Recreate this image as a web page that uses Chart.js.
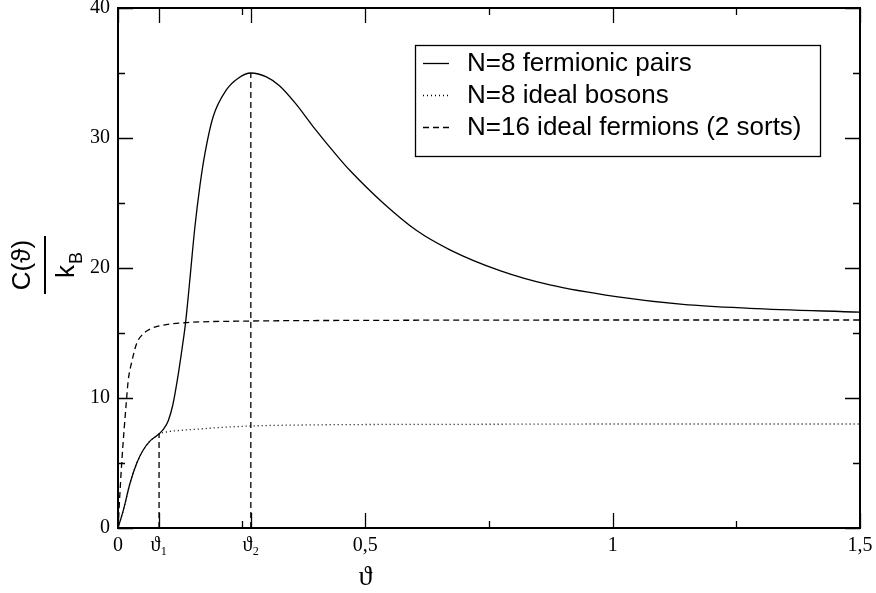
<!DOCTYPE html>
<html>
<head>
<meta charset="utf-8">
<script src="https://cdn.jsdelivr.net/npm/chart.js@4.4.1/dist/chart.umd.min.js"></script>
<style>
  html, body { margin: 0; padding: 0; background: #fff; }
</style>
</head>
<body>
<canvas id="chart" width="876" height="593"></canvas>
<script>
// special temperatures marked on the axis
var theta1 = 0.083;
var theta2 = 0.2685;

var xTickValues = [0, theta1, theta2, 0.5, 1, 1.5];
var xTickLabels = ["0", "ϑ₁", "ϑ₂", "0,5", "1", "1,5"];
var xMinorTicks = [0.25, 0.75, 1.25];
var yMajorTicks = [0, 10, 20, 30, 40];
var yMinorTicks = [5, 15, 25, 35];

var seriesNames = ["N=8 fermionic pairs", "N=8 ideal bosons", "N=16 ideal fermions (2 sorts)"];

// N=8 fermionic pairs
var pairsX = [0, 0.011, 0.024, 0.038, 0.051, 0.065, 0.075, 0.083, 0.092, 0.1016, 0.111, 0.12, 0.128, 0.1366, 0.145, 0.155, 0.1655, 0.1757, 0.192, 0.219, 0.243, 0.2685, 0.3, 0.327, 0.36, 0.394, 0.448, 0.469, 0.536, 0.603, 0.671, 0.772, 0.873, 1.007, 1.142, 1.277, 1.5];
var pairsY = [0, 1.4, 3.4, 5.0, 6.0, 6.7, 7.0, 7.25, 7.6, 8.25, 9.5, 11.4, 13.4, 15.8, 19.0, 23.0, 26.3, 28.8, 31.6, 33.7, 34.6, 35.0, 34.7, 34.0, 32.6, 30.9, 28.4, 27.5, 25.0, 22.9, 21.4, 19.8, 18.7, 17.8, 17.2, 16.9, 16.6];

// N=8 ideal bosons
var bosonsX = [0, 0.011, 0.024, 0.038, 0.051, 0.065, 0.075, 0.083, 0.1, 0.13, 0.166, 0.22, 0.27, 0.367, 0.5, 0.75, 1.0, 1.5];
var bosonsY = [0, 1.4, 3.4, 5.0, 6.0, 6.7, 7.0, 7.22, 7.4, 7.52, 7.62, 7.76, 7.85, 7.92, 7.96, 7.98, 8.0, 8.0];

// N=16 ideal fermions (2 sorts)
var fermionsX = [0, 0.0075, 0.0175, 0.0208, 0.028, 0.0377, 0.05, 0.0646, 0.09, 0.139, 0.27, 0.5, 1.0, 1.5];
var fermionsY = [0, 5.0, 10.0, 11.4, 12.8, 14.2, 14.9, 15.3, 15.6, 15.8, 15.92, 15.97, 16.0, 16.0];

// drop lines at theta1 and theta2
var drop1Y = [0, 7.25];
var drop2Y = [0, 35.0];

function toPoints(xs, ys) {
    return xs.map(function (x, i) { return { x: x, y: ys[i] }; });
}

var frameAndTicks = {
    id: "frameAndTicks",
    afterDatasetsDraw: function (chart) {
        var ctx = chart.ctx;
        var a = chart.chartArea;
        var xs = chart.scales.x;
        var ys = chart.scales.y;
        ctx.save();
        ctx.strokeStyle = "#000";
        ctx.lineWidth = 2;
        ctx.strokeRect(a.left, a.top, a.right - a.left, a.bottom - a.top);
        ctx.lineWidth = 1.3;
        ctx.beginPath();
        function xt(v, len) {
            var p = Math.round(xs.getPixelForValue(v)) + 0.5;
            ctx.moveTo(p, a.bottom); ctx.lineTo(p, a.bottom - len);
            ctx.moveTo(p, a.top); ctx.lineTo(p, a.top + len);
        }
        function yt(v, len) {
            var p = Math.round(ys.getPixelForValue(v)) + 0.5;
            ctx.moveTo(a.left, p); ctx.lineTo(a.left + len, p);
            ctx.moveTo(a.right, p); ctx.lineTo(a.right - len, p);
        }
        xTickValues.forEach(function (v) { xt(v, 15); });
        xMinorTicks.forEach(function (v) { xt(v, 7); });
        yMajorTicks.forEach(function (v) { yt(v, 15); });
        yMinorTicks.forEach(function (v) { yt(v, 7); });
        ctx.stroke();

        // axis titles
        ctx.fillStyle = "#000";
        ctx.font = "28px 'Liberation Serif', 'DejaVu Serif', serif";
        ctx.textAlign = "center";
        ctx.textBaseline = "middle";
        ctx.fillText("ϑ", xs.getPixelForValue(0.5), 578);

        ctx.translate(45, 265);
        ctx.rotate(-Math.PI / 2);
        ctx.font = "26px 'Liberation Sans', Arial, sans-serif";
        ctx.fillText("C(ϑ)", 0, -22);
        ctx.lineWidth = 2;
        ctx.beginPath();
        ctx.moveTo(-29, 0); ctx.lineTo(29, 0);
        ctx.stroke();
        ctx.textAlign = "left";
        ctx.fillText("k", -13, 22);
        ctx.font = "18px 'Liberation Sans', Arial, sans-serif";
        ctx.fillText("B", 1, 32);
        ctx.restore();

        // legend box
        ctx.save();
        var bx = 415, by = 45, bw = 405, bh = 111;
        ctx.fillStyle = "#fff";
        ctx.fillRect(bx, by, bw, bh);
        ctx.strokeStyle = "#000";
        ctx.lineWidth = 1.3;
        ctx.strokeRect(bx + 0.5, by + 0.5, bw, bh);
        ctx.font = "26px 'Liberation Sans', Arial, sans-serif";
        ctx.textAlign = "left";
        ctx.textBaseline = "middle";
        for (var i = 0; i < seriesNames.length; i++) {
            var ds = chart.data.datasets[i];
            var ry = 63 + i * 32;
            ctx.setLineDash(ds.borderDash || []);
            ctx.lineWidth = ds.borderWidth;
            ctx.beginPath();
            ctx.moveTo(423, ry + 0.5);
            ctx.lineTo(449, ry + 0.5);
            ctx.stroke();
            ctx.setLineDash([]);
            ctx.fillStyle = "#000";
            ctx.fillText(seriesNames[i], 467, ry + 1);
        }
        ctx.restore();
    }
};

var ctx = document.getElementById("chart").getContext("2d");
var graph = new Chart(ctx, {
    type: "line",
    data: {
        datasets: [{
            label: seriesNames[0],
            data: toPoints(pairsX, pairsY),
            borderColor: "#000",
            borderWidth: 1.3,
            cubicInterpolationMode: "monotone"
        }, {
            label: seriesNames[1],
            data: toPoints(bosonsX, bosonsY),
            borderColor: "#000",
            borderWidth: 1.3,
            borderDash: [1, 3],
            cubicInterpolationMode: "monotone"
        }, {
            label: seriesNames[2],
            data: toPoints(fermionsX, fermionsY),
            borderColor: "#000",
            borderWidth: 1.3,
            borderDash: [6, 4],
            cubicInterpolationMode: "monotone"
        }, {
            label: "theta1",
            data: toPoints([theta1, theta1], drop1Y),
            borderColor: "#000",
            borderWidth: 1.3,
            borderDash: [6, 4]
        }, {
            label: "theta2",
            data: toPoints([theta2, theta2], drop2Y),
            borderColor: "#000",
            borderWidth: 1.3,
            borderDash: [6, 4]
        }]
    },
    options: {
        responsive: false,
        animation: false,
        devicePixelRatio: 1,
        elements: { point: { radius: 0 } },
        layout: { padding: { top: 8, right: 16, bottom: 0, left: 0 } },
        plugins: {
            legend: { display: false },
            tooltip: { enabled: false }
        },
        scales: {
            x: {
                type: "linear",
                min: 0,
                max: 1.5,
                afterBuildTicks: function (scale) {
                    scale.ticks = xTickValues.map(function (v) { return { value: v }; });
                },
                afterFit: function (scale) {
                    scale.height = 65;
                    scale.paddingLeft = 0;
                    scale.paddingRight = 0;
                },
                ticks: {
                    autoSkip: false,
                    maxRotation: 0,
                    padding: 6,
                    color: "#000",
                    font: { family: "'Liberation Serif', 'DejaVu Serif', serif", size: 20 },
                    callback: function (value, index) { return xTickLabels[index]; }
                },
                grid: { display: false, drawTicks: false },
                border: { display: false }
            },
            y: {
                min: 0,
                max: 40,
                afterBuildTicks: function (scale) {
                    scale.ticks = yMajorTicks.map(function (v) { return { value: v }; });
                },
                afterFit: function (scale) {
                    scale.width = 118;
                    scale.paddingTop = 0;
                    scale.paddingBottom = 0;
                },
                ticks: {
                    padding: 8,
                    color: "#000",
                    font: { family: "'Liberation Serif', 'DejaVu Serif', serif", size: 20 }
                },
                grid: { display: false, drawTicks: false },
                border: { display: false }
            }
        }
    },
    plugins: [frameAndTicks]
});
</script>
</body>
</html>
